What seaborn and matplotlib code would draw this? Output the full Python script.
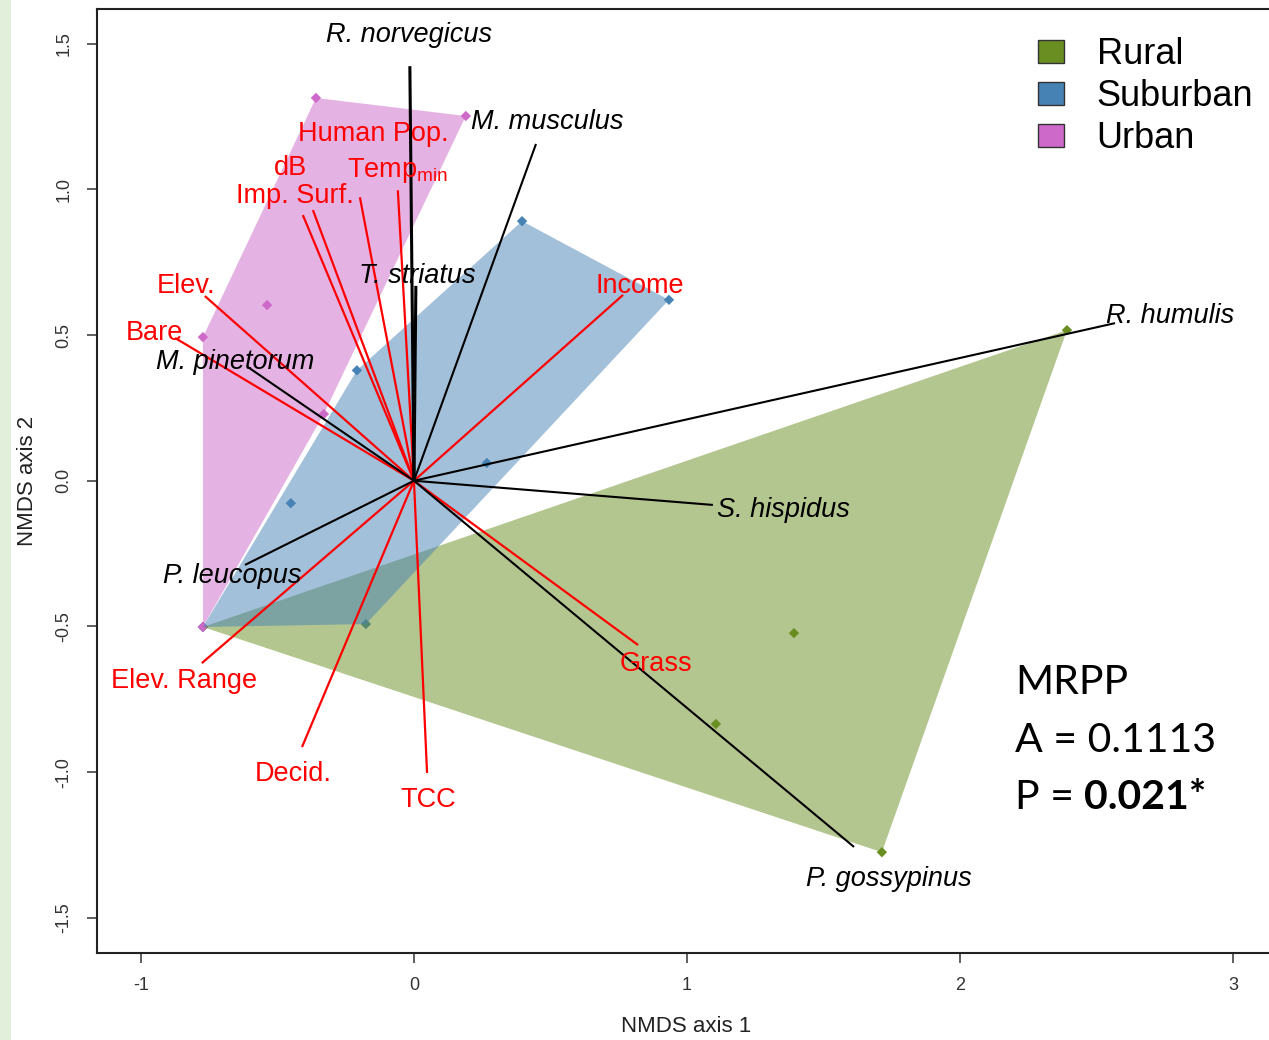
import numpy as np
import pandas as pd
import matplotlib
matplotlib.use("Agg")
import matplotlib.pyplot as plt
from matplotlib.patches import Patch, Rectangle
import seaborn as sns

# ---------------- data ----------------
groups = ["Rural", "Suburban", "Urban"]
group_colors = ["#6B8E23", "#4682B4", "#CD69C9"]

rural_x = [2.392, 1.714, -0.773, 1.392, 1.106]
rural_y = [0.517, -1.275, -0.502, -0.523, -0.835]
suburban_x = [0.396, 0.934, -0.176, -0.773, -0.209, -0.451, 0.267]
suburban_y = [0.891, 0.621, -0.492, -0.502, 0.379, -0.077, 0.061]
urban_x = [-0.359, 0.190, -0.773, -0.538, -0.773, -0.330]
urban_y = [1.314, 1.252, 0.493, 0.603, -0.502, 0.229]

species = ["R. norvegicus", "M. musculus", "T. striatus", "M. pinetorum",
           "P. leucopus", "S. hispidus", "R. humulis", "P. gossypinus"]
species_x = [-0.015, 0.447, 0.007, -0.608, -0.619, 1.095, 2.568, 1.612]
species_y = [1.423, 1.156, 0.669, 0.390, -0.289, -0.083, 0.541, -1.257]
species_lab_x = [-0.018, 0.487, 0.011, -0.656, -0.667, 1.352, 2.769, 1.740]
species_lab_y = [1.540, 1.242, 0.713, 0.418, -0.317, -0.090, 0.576, -1.357]

env = ["Human Pop.", "dB", r"Temp$_\mathregular{min}$", "Imp. Surf.", "Elev.", "Bare",
       "Income", "Grass", "Elev. Range", "Decid.", "TCC"]
env_x = [-0.198, -0.370, -0.059, -0.407, -0.766, -0.875, 0.766, 0.821, -0.777, -0.410, 0.048]
env_y = [0.973, 0.929, 0.997, 0.912, 0.634, 0.490, 0.638, -0.564, -0.626, -0.914, -1.003]
env_lab_x = [-0.150, -0.454, -0.059, -0.436, -0.835, -0.949, 0.828, 0.886, -0.842, -0.443, 0.051]
env_lab_y = [1.200, 1.084, 1.077, 0.988, 0.679, 0.517, 0.679, -0.618, -0.677, -0.997, -1.085]

x_ticks = [-1, 0, 1, 2, 3]
y_ticks = [-1.5, -1.0, -0.5, 0.0, 0.5, 1.0, 1.5]
mrpp_lines = ["MRPP", "A = 0.1113", "P = "]
mrpp_bold = "0.021*"

# ---------------- helpers ----------------
def convex_hull(xs, ys):
    pts = sorted(set(zip(xs, ys)))
    if len(pts) <= 2:
        return pts
    def cross(o, a, b):
        return (a[0]-o[0])*(b[1]-o[1]) - (a[1]-o[1])*(b[0]-o[0])
    lower, upper = [], []
    for p in pts:
        while len(lower) >= 2 and cross(lower[-2], lower[-1], p) <= 0:
            lower.pop()
        lower.append(p)
    for p in reversed(pts):
        while len(upper) >= 2 and cross(upper[-2], upper[-1], p) <= 0:
            upper.pop()
        upper.append(p)
    return lower[:-1] + upper[:-1]

# ---------------- figure ----------------
sns.set_style("ticks")
plt.rcParams["font.family"] = ["Liberation Sans", "DejaVu Sans"]

W, H = 1269, 1040
fig = plt.figure(figsize=(W/100, H/100), dpi=100)
fig.patches.append(Rectangle((0, 0), 11/W, 1, transform=fig.transFigure,
                             facecolor="#E2EFDA", edgecolor="none", zorder=0))
ax = fig.add_axes([97/W, (H-952.7)/H, (1275-97)/W, (952.7-8.5)/H])

pts = pd.DataFrame({
    "x": rural_x + suburban_x + urban_x,
    "y": rural_y + suburban_y + urban_y,
    "group": ["Rural"]*len(rural_x) + ["Suburban"]*len(suburban_x) + ["Urban"]*len(urban_x),
})
pal = dict(zip(groups, group_colors))
sns.scatterplot(data=pts, x="x", y="y", hue="group", palette=pal, marker="D",
                s=28, edgecolor="none", legend=False, ax=ax, zorder=1)

for gx, gy, col in [(rural_x, rural_y, group_colors[0]),
                    (suburban_x, suburban_y, group_colors[1]),
                    (urban_x, urban_y, group_colors[2])]:
    hull = convex_hull(gx, gy)
    hx, hy = zip(*hull)
    ax.fill(hx, hy, facecolor=col, alpha=0.5, edgecolor="none", zorder=2)

# vectors
for ex, ey in zip(env_x, env_y):
    ax.plot([0, ex], [0, ey], color="#FF0000", lw=1.6, zorder=3, solid_capstyle="butt")
for i, (sx, sy) in enumerate(zip(species_x, species_y)):
    lw = 2.2 if i in (0, 2) else 1.5
    ax.plot([0, sx], [0, sy], color="black", lw=lw, zorder=3.5, solid_capstyle="butt")

for lab, lx, ly in zip(env, env_lab_x, env_lab_y):
    ax.text(lx, ly, lab, color="#FF0000", fontsize=19.5, ha="center",
            va="center_baseline", zorder=4)
for lab, lx, ly in zip(species, species_lab_x, species_lab_y):
    ax.text(lx, ly, lab, color="black", fontsize=19.5, style="italic",
            ha="center", va="center_baseline", zorder=4)

# MRPP text
mrpp_x = 2.201
mrpp_y = [-0.691, -0.890, -1.086]
for txt, yy in zip(mrpp_lines[:2], mrpp_y[:2]):
    ax.text(mrpp_x, yy, txt, fontsize=29.5, family=["Lato", "DejaVu Sans"],
            ha="left", va="center", color="black", zorder=5)
t1 = ax.text(mrpp_x, mrpp_y[2], mrpp_lines[2], fontsize=29.5, family=["Lato", "DejaVu Sans"],
             ha="left", va="center", color="black", zorder=5)
ax.annotate(mrpp_bold, xy=(1, 0), xycoords=t1, ha="left", va="bottom",
            fontsize=29.5, fontweight="bold", family=["Lato", "DejaVu Sans"],
            color="black", zorder=5)

# axes styling
ax.set_xlim(-1.161, 3.154)
ax.set_ylim(-1.620, 1.621)
ax.set_xticks(x_ticks)
ax.set_xticklabels([str(v) for v in x_ticks])
ax.set_yticks(y_ticks)
ax.set_yticklabels([f"{v:.1f}" for v in y_ticks], rotation=90, va="center")
ax.tick_params(axis="both", direction="out", length=7.5, width=1.1, colors="#333333",
               labelsize=13, pad=10)
for side in ["left", "bottom", "top"]:
    ax.spines[side].set_linewidth(1.5)
    ax.spines[side].set_color("#222222")
ax.spines["right"].set_visible(False)
ax.set_xlabel("NMDS axis 1", fontsize=16, color="#222222", labelpad=16)
ax.set_ylabel("NMDS axis 2", fontsize=16, color="#222222", labelpad=13)

handles = [Patch(facecolor=c, edgecolor="#333333", linewidth=1.0) for c in group_colors]
fig.legend(handles, groups, loc="upper left", bbox_to_anchor=(1038/W, 1-37/H),
           frameon=False, fontsize=26, handlelength=0.72, handleheight=0.62,
           handletextpad=0.9, labelspacing=0.2, borderpad=0, borderaxespad=0,
           labelcolor="black")

fig.savefig("out.png", dpi=100)
